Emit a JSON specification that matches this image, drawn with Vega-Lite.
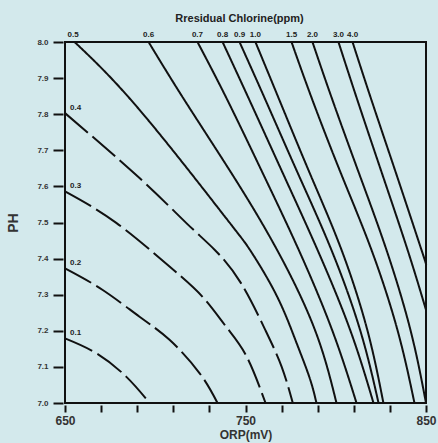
{
  "$schema": "https://vega.github.io/schema/vega-lite/v6.json",
  "width": 361,
  "height": 361,
  "autosize": {"type": "none"},
  "padding": {"left": 65, "top": 42, "right": 12, "bottom": 40},
  "background": "#d3e9ec",
  "title": {"text": "Rresidual Chlorine(ppm)", "font": "Liberation Sans", "fontSize": 11, "fontWeight": "bold", "color": "#222", "frame": "group", "anchor": "middle", "baseline": "bottom", "offset": 8, "dx": -6, "dy": 12},
  "config": {"view": {"stroke": "#111", "strokeWidth": 2, "fill": null}},
  "datasets": {
    "curves": [
      {"ppm": "0.1", "style": "dashed", "orp": 650, "ph": 7.179},
      {"ppm": "0.1", "style": "dashed", "orp": 667.3, "ph": 7.138},
      {"ppm": "0.1", "style": "dashed", "orp": 683.9, "ph": 7.073},
      {"ppm": "0.1", "style": "dashed", "orp": 696.8, "ph": 7.0},
      {"ppm": "0.2", "style": "dashed", "orp": 650, "ph": 7.373},
      {"ppm": "0.2", "style": "dashed", "orp": 670.9, "ph": 7.313},
      {"ppm": "0.2", "style": "dashed", "orp": 691.3, "ph": 7.239},
      {"ppm": "0.2", "style": "dashed", "orp": 707.9, "ph": 7.175},
      {"ppm": "0.2", "style": "dashed", "orp": 724.5, "ph": 7.083},
      {"ppm": "0.2", "style": "dashed", "orp": 734.5, "ph": 7.0},
      {"ppm": "0.3", "style": "dashed", "orp": 650, "ph": 7.586},
      {"ppm": "0.3", "style": "dashed", "orp": 678.4, "ph": 7.499},
      {"ppm": "0.3", "style": "dashed", "orp": 707.9, "ph": 7.378},
      {"ppm": "0.3", "style": "dashed", "orp": 726.2, "ph": 7.294},
      {"ppm": "0.3", "style": "dashed", "orp": 739.3, "ph": 7.211},
      {"ppm": "0.3", "style": "dashed", "orp": 750.5, "ph": 7.13},
      {"ppm": "0.3", "style": "dashed", "orp": 761.1, "ph": 7.0},
      {"ppm": "0.4", "style": "dashed", "orp": 650, "ph": 7.803},
      {"ppm": "0.4", "style": "dashed", "orp": 691.3, "ph": 7.623},
      {"ppm": "0.4", "style": "dashed", "orp": 717.1, "ph": 7.499},
      {"ppm": "0.4", "style": "dashed", "orp": 733, "ph": 7.424},
      {"ppm": "0.4", "style": "dashed", "orp": 747.5, "ph": 7.332},
      {"ppm": "0.4", "style": "dashed", "orp": 761, "ph": 7.202},
      {"ppm": "0.4", "style": "dashed", "orp": 770, "ph": 7.101},
      {"ppm": "0.4", "style": "dashed", "orp": 776.2, "ph": 7.0},
      {"ppm": "0.5", "style": "solid", "orp": 655.3, "ph": 8.0},
      {"ppm": "0.5", "style": "solid", "orp": 691.3, "ph": 7.812},
      {"ppm": "0.5", "style": "solid", "orp": 738, "ph": 7.52},
      {"ppm": "0.5", "style": "solid", "orp": 753, "ph": 7.42},
      {"ppm": "0.5", "style": "solid", "orp": 767, "ph": 7.3},
      {"ppm": "0.5", "style": "solid", "orp": 778, "ph": 7.17},
      {"ppm": "0.5", "style": "solid", "orp": 785.5, "ph": 7.07},
      {"ppm": "0.5", "style": "solid", "orp": 789.3, "ph": 7.0},
      {"ppm": "0.6", "style": "solid", "orp": 696.3, "ph": 8.0},
      {"ppm": "0.6", "style": "solid", "orp": 716.2, "ph": 7.839},
      {"ppm": "0.6", "style": "solid", "orp": 742.8, "ph": 7.632},
      {"ppm": "0.6", "style": "solid", "orp": 767.5, "ph": 7.424},
      {"ppm": "0.6", "style": "solid", "orp": 788.5, "ph": 7.202},
      {"ppm": "0.6", "style": "solid", "orp": 800.4, "ph": 7.0},
      {"ppm": "0.7", "style": "solid", "orp": 723.4, "ph": 8.0},
      {"ppm": "0.7", "style": "solid", "orp": 740, "ph": 7.839},
      {"ppm": "0.7", "style": "solid", "orp": 760, "ph": 7.632},
      {"ppm": "0.7", "style": "solid", "orp": 779.5, "ph": 7.424},
      {"ppm": "0.7", "style": "solid", "orp": 798, "ph": 7.202},
      {"ppm": "0.7", "style": "solid", "orp": 811.5, "ph": 7.0},
      {"ppm": "0.8", "style": "solid", "orp": 737.3, "ph": 8.0},
      {"ppm": "0.8", "style": "solid", "orp": 752.2, "ph": 7.839},
      {"ppm": "0.8", "style": "solid", "orp": 771.1, "ph": 7.632},
      {"ppm": "0.8", "style": "solid", "orp": 789.9, "ph": 7.424},
      {"ppm": "0.8", "style": "solid", "orp": 808, "ph": 7.202},
      {"ppm": "0.8", "style": "solid", "orp": 820.9, "ph": 7.0},
      {"ppm": "0.9", "style": "solid", "orp": 746.7, "ph": 8.0},
      {"ppm": "0.9", "style": "solid", "orp": 761.1, "ph": 7.839},
      {"ppm": "0.9", "style": "solid", "orp": 779.4, "ph": 7.632},
      {"ppm": "0.9", "style": "solid", "orp": 797.6, "ph": 7.424},
      {"ppm": "0.9", "style": "solid", "orp": 813.5, "ph": 7.202},
      {"ppm": "0.9", "style": "solid", "orp": 823.7, "ph": 7.0},
      {"ppm": "1.0", "style": "solid", "orp": 755.5, "ph": 8.0},
      {"ppm": "1.0", "style": "solid", "orp": 768.8, "ph": 7.839},
      {"ppm": "1.0", "style": "solid", "orp": 786, "ph": 7.632},
      {"ppm": "1.0", "style": "solid", "orp": 803.2, "ph": 7.424},
      {"ppm": "1.0", "style": "solid", "orp": 817.5, "ph": 7.202},
      {"ppm": "1.0", "style": "solid", "orp": 826.4, "ph": 7.0},
      {"ppm": "1.5", "style": "solid", "orp": 775.5, "ph": 8.0},
      {"ppm": "1.5", "style": "solid", "orp": 787.1, "ph": 7.839},
      {"ppm": "1.5", "style": "solid", "orp": 803.2, "ph": 7.632},
      {"ppm": "1.5", "style": "solid", "orp": 819.8, "ph": 7.424},
      {"ppm": "1.5", "style": "solid", "orp": 834.2, "ph": 7.202},
      {"ppm": "1.5", "style": "solid", "orp": 843.6, "ph": 7.0},
      {"ppm": "2.0", "style": "solid", "orp": 787.1, "ph": 8.0},
      {"ppm": "2.0", "style": "solid", "orp": 798.2, "ph": 7.839},
      {"ppm": "2.0", "style": "solid", "orp": 813.2, "ph": 7.632},
      {"ppm": "2.0", "style": "solid", "orp": 828.1, "ph": 7.424},
      {"ppm": "2.0", "style": "solid", "orp": 841.4, "ph": 7.202},
      {"ppm": "2.0", "style": "solid", "orp": 850, "ph": 7.0},
      {"ppm": "3.0", "style": "solid", "orp": 801.5, "ph": 8.0},
      {"ppm": "3.0", "style": "solid", "orp": 812, "ph": 7.839},
      {"ppm": "3.0", "style": "solid", "orp": 825.9, "ph": 7.632},
      {"ppm": "3.0", "style": "solid", "orp": 839.8, "ph": 7.424},
      {"ppm": "3.0", "style": "solid", "orp": 850, "ph": 7.258},
      {"ppm": "4.0", "style": "solid", "orp": 809.3, "ph": 8.0},
      {"ppm": "4.0", "style": "solid", "orp": 819.8, "ph": 7.839},
      {"ppm": "4.0", "style": "solid", "orp": 833.7, "ph": 7.632},
      {"ppm": "4.0", "style": "solid", "orp": 847.5, "ph": 7.424},
      {"ppm": "4.0", "style": "solid", "orp": 850, "ph": 7.385}
    ],
    "toplabels": [
      {"label": "0.5", "orp": 654.5, "ph": 8.0},
      {"label": "0.6", "orp": 696.3, "ph": 8.0},
      {"label": "0.7", "orp": 723.4, "ph": 8.0},
      {"label": "0.8", "orp": 737.3, "ph": 8.0},
      {"label": "0.9", "orp": 746.7, "ph": 8.0},
      {"label": "1.0", "orp": 755.5, "ph": 8.0},
      {"label": "1.5", "orp": 775.5, "ph": 8.0},
      {"label": "2.0", "orp": 787.1, "ph": 8.0},
      {"label": "3.0", "orp": 801.5, "ph": 8.0},
      {"label": "4.0", "orp": 809.3, "ph": 8.0}
    ],
    "leftlabels": [
      {"label": "0.4", "orp": 650, "ph": 7.803},
      {"label": "0.3", "orp": 650, "ph": 7.586},
      {"label": "0.2", "orp": 650, "ph": 7.373},
      {"label": "0.1", "orp": 650, "ph": 7.179}
    ]
  },
  "encoding": {
    "x": {
      "field": "orp", "type": "quantitative",
      "scale": {"domain": [650, 850], "nice": false, "zero": false},
      "axis": {
        "title": "ORP(mV)", "domain": false, "grid": false, "offset": 2,
        "values": [650, 670, 690, 710, 730, 750, 770, 790, 810, 830, 850],
        "labelExpr": "datum.value % 100 == 50 ? datum.label : ''",
        "tickSize": 7, "tickWidth": 2, "tickColor": "#111",
        "labelFont": "Liberation Sans", "labelFontSize": 12, "labelFontWeight": "bold", "labelColor": "#333", "labelPadding": 3,
        "labelOverlap": false, "labelFlush": false,
        "titleFont": "Liberation Sans", "titleFontSize": 12, "titleFontWeight": "bold", "titleColor": "#333", "titlePadding": 3
      }
    },
    "y": {
      "field": "ph", "type": "quantitative",
      "scale": {"domain": [7.0, 8.0], "nice": false, "zero": false},
      "axis": {
        "title": "PH", "domain": false, "grid": false, "offset": 2,
        "values": [7.0, 7.1, 7.2, 7.3, 7.4, 7.5, 7.6, 7.7, 7.8, 7.9, 8.0],
        "format": ".1f",
        "tickSize": 10, "tickWidth": 2, "tickColor": "#111",
        "labelFont": "Liberation Sans", "labelFontSize": 8, "labelFontWeight": "bold", "labelColor": "#333", "labelPadding": 5,
        "labelOverlap": false, "labelFlush": false,
        "titleFont": "Liberation Sans", "titleFontSize": 14, "titleFontWeight": "bold", "titleColor": "#333", "titlePadding": 16
      }
    }
  },
  "layer": [
    {
      "data": {"name": "curves"},
      "mark": {"type": "line", "interpolate": "natural", "strokeWidth": 2, "color": "#111"},
      "encoding": {
        "detail": {"field": "ppm", "type": "nominal"},
        "strokeDash": {"field": "style", "type": "nominal", "scale": {"domain": ["solid", "dashed"], "range": [[1, 0], [30, 6]]}, "legend": null}
      }
    },
    {
      "data": {"name": "toplabels"},
      "mark": {"type": "text", "font": "Liberation Sans", "fontSize": 8, "fontWeight": "bold", "color": "#222", "baseline": "bottom", "align": "center", "dy": -3},
      "encoding": {"text": {"field": "label", "type": "nominal"}}
    },
    {
      "data": {"name": "leftlabels"},
      "mark": {"type": "text", "font": "Liberation Sans", "fontSize": 8, "fontWeight": "bold", "color": "#222", "baseline": "bottom", "align": "left", "dx": 5, "dy": -1},
      "encoding": {"text": {"field": "label", "type": "nominal"}}
    }
  ]
}
